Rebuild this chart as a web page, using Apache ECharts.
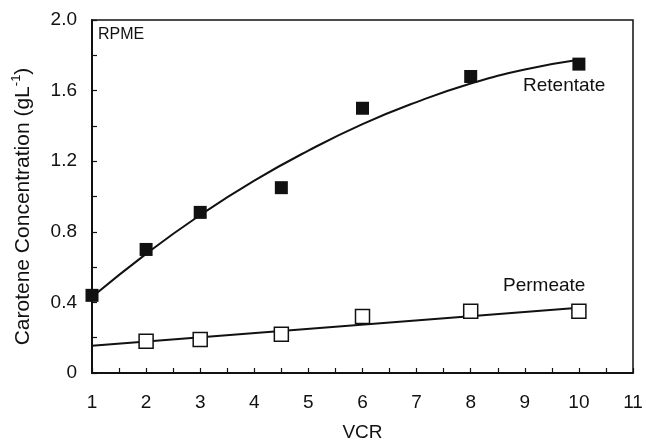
<!DOCTYPE html>
<html>
<head>
<meta charset="utf-8">
<script src="https://cdn.jsdelivr.net/npm/echarts@6/dist/echarts.min.js"></script>
<style>html,body{margin:0;padding:0;background:#fff;}#c{width:646px;height:448px;}</style>
</head>
<body>
<div id="c"></div>
<script>
// Measured data
const retentateVCR = [1, 2, 3, 4.5, 6, 8, 10];
const retentateConc = [0.44, 0.70, 0.91, 1.05, 1.50, 1.68, 1.75];
const permeateVCR = [2, 3, 4.5, 6, 8, 10];
const permeateConc = [0.18, 0.19, 0.22, 0.32, 0.35, 0.35];
// Fitted curves
const retentateFitVCR = [1, 2, 3, 4, 5, 6, 7, 8, 9, 10];
const retentateFitConc = [0.43, 0.675, 0.895, 1.09, 1.26, 1.41, 1.535, 1.64, 1.72, 1.775];
const permeateFitVCR = [1, 10];
const permeateFitConc = [0.155, 0.37];

const xTicks = [1, 2, 3, 4, 5, 6, 7, 8, 9, 10, 11];
const yTicks = [0, 0.4, 0.8, 1.2, 1.6, 2.0];

const pairs = (xs, ys) => xs.map((x, i) => [x, ys[i]]);
const FONT = '"Liberation Sans", Arial, sans-serif';
const INK = '#111';

const chart = echarts.init(document.getElementById('c'), null, {renderer: 'canvas'});
chart.setOption({
  animation: false,
  backgroundColor: '#fff',
  grid: {left: 92, right: 13, top: 20, bottom: 75, show: true, borderColor: INK, borderWidth: 1.5, backgroundColor: 'transparent'},
  xAxis: {
    type: 'value', min: 1, max: 11, interval: 0.5,
    name: 'VCR', nameLocation: 'middle', nameGap: 50,
    nameTextStyle: {fontFamily: FONT, fontSize: 19, color: INK},
    axisLine: {show: true, lineStyle: {color: INK, width: 2}},
    axisTick: {show: true, inside: true, length: 5, lineStyle: {color: INK, width: 1.2}},
    splitLine: {show: false},
    axisLabel: {
      fontFamily: FONT, fontSize: 19, color: INK, margin: 20,
      formatter: v => (xTicks.indexOf(Math.round(v * 100) / 100) >= 0 ? String(v) : '')
    }
  },
  yAxis: {
    type: 'value', min: 0, max: 2, interval: 0.2,
    name: '{a|Carotene Concentration (gL}{s|-1}{a|)}', nameLocation: 'middle', nameGap: 56, nameRotate: 90,
    nameTextStyle: {
      fontFamily: FONT, fontSize: 21, color: INK, padding: [0, 20, 0, 0],
      rich: {
        a: {fontFamily: FONT, fontSize: 21, color: INK, lineHeight: 26},
        s: {fontFamily: FONT, fontSize: 13, color: INK, lineHeight: 26, verticalAlign: 'top', padding: [0, 0, 10, 0]}
      }
    },
    axisLine: {show: true, lineStyle: {color: INK, width: 2}},
    axisTick: {show: true, inside: true, length: 5, lineStyle: {color: INK, width: 1.2}},
    splitLine: {show: false},
    axisLabel: {
      fontFamily: FONT, fontSize: 19, color: INK, margin: 15,
      formatter: v => {
        const r = Math.round(v * 100) / 100;
        if (!yTicks.some(t => Math.abs(t - r) < 1e-6)) return '';
        return r === 0 ? '0' : r.toFixed(1);
      }
    }
  },
  graphic: [
    {type: 'text', left: 98, top: 27, style: {text: 'RPME', font: '16px ' + FONT, fill: INK}},
    {type: 'text', left: 523, top: 76, style: {text: 'Retentate', font: '19px ' + FONT, fill: INK}},
    {type: 'text', left: 503, top: 276, style: {text: 'Permeate', font: '19px ' + FONT, fill: INK}}
  ],
  series: [
    {type: 'line', data: pairs(retentateFitVCR, retentateFitConc), smooth: true, showSymbol: false, symbol: 'none',
     lineStyle: {color: INK, width: 2}, z: 2},
    {type: 'line', data: pairs(permeateFitVCR, permeateFitConc), showSymbol: false, symbol: 'none',
     lineStyle: {color: INK, width: 2}, z: 2},
    {type: 'scatter', data: pairs(retentateVCR, retentateConc), symbol: 'rect', symbolSize: 13,
     itemStyle: {color: INK, opacity: 1}, clip: false, z: 3},
    {type: 'scatter', data: pairs(permeateVCR, permeateConc), symbol: 'rect', symbolSize: 14,
     itemStyle: {color: '#fff', borderColor: INK, borderWidth: 1.5, opacity: 1}, clip: false, z: 3}
  ]
});
</script>
</body>
</html>
